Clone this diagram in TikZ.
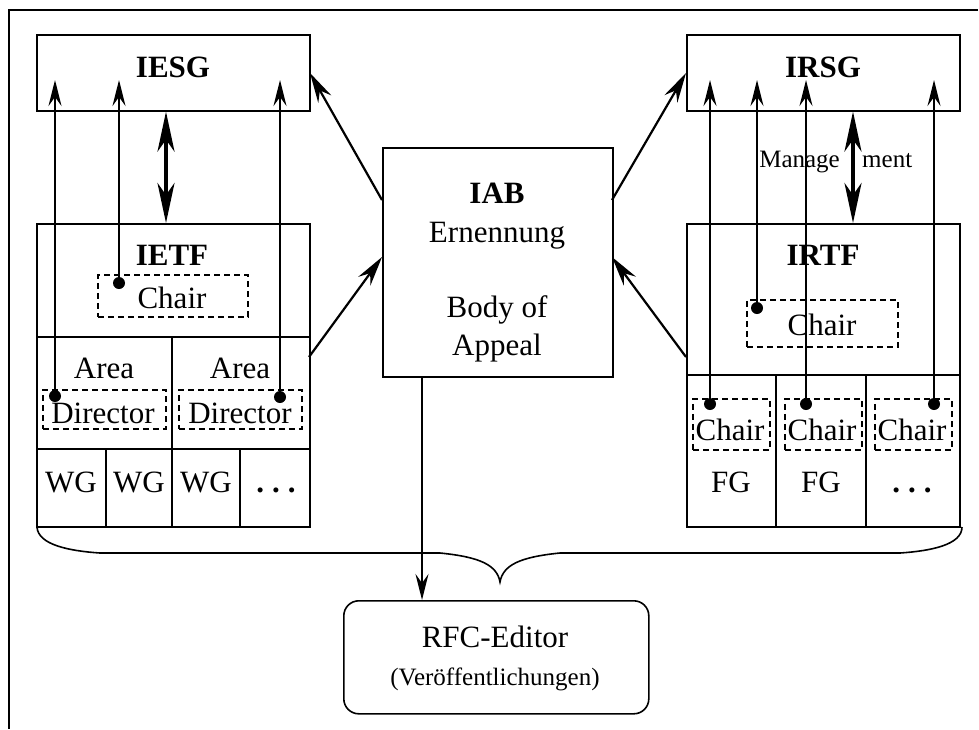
\documentclass[tikz,border=0pt]{standalone}
\usepackage{fontspec}
\setmainfont{Liberation Serif}
\usetikzlibrary{arrows.meta}
\newcommand{\spaceddots}{\textbf{.\kern8pt.\kern8pt.}}
\begin{document}
\begin{tikzpicture}[x=1pt,y=-1pt,
  box/.style={draw,line width=1.6pt,inner sep=0,anchor=north west},
  dbox/.style={draw,line width=1.6pt,dash pattern=on 6pt off 4pt,inner sep=0,anchor=north west},
  txt/.style={inner sep=0,anchor=base,font=\fontsize{31}{36}\selectfont},
  btxt/.style={inner sep=0,anchor=base,font=\fontsize{31}{36}\selectfont\bfseries},
  stxt/.style={inner sep=0,anchor=base,font=\fontsize{25}{30}\selectfont},
  dot/.style={circle,fill,inner sep=0,minimum size=12pt},
  arr/.style={line width=1.6pt,-{Stealth[length=26pt,width=13pt,inset=9pt]}},
  iarr/.style={line width=2.2pt,-{Stealth[length=30pt,width=15pt,inset=10pt]}},
  darr/.style={line width=4pt,{Stealth[length=40pt,width=17pt,inset=12pt]}-{Stealth[length=40pt,width=17pt,inset=12pt]}},
  grid/.style={line width=1.6pt}
]
\useasboundingbox (0,0) rectangle (979,729);
% frame
\draw[line width=2.5pt] (978,10) -- (9,10) -- (9,729);

% main boxes
\node[box,minimum width=273pt,minimum height=76pt] (iesg) at (36,34) {};
\node[box,minimum width=273pt,minimum height=303pt] (ietf) at (36,223) {};
\node[box,minimum width=273pt,minimum height=76pt] (irsg) at (686,34) {};
\node[box,minimum width=273pt,minimum height=303pt] (irtf) at (686,223) {};
\node[box,minimum width=230pt,minimum height=229pt] (iab) at (382,147) {};
\node[box,rounded corners=15pt,minimum width=305pt,minimum height=113pt] (rfc) at (343,600) {};

% IETF grid
\draw[grid] (36,337) -- (309,337);
\draw[grid] (36,449) -- (309,449);
\draw[grid] (172,337) -- (172,526);
\draw[grid] (106,449) -- (106,526);
\draw[grid] (240,449) -- (240,526);
% IRTF grid
\draw[grid] (686,375) -- (959,375);
\draw[grid] (776,375) -- (776,526);
\draw[grid] (866,375) -- (866,526);

% dashed boxes
\node[dbox,minimum width=150pt,minimum height=42pt] (ietfchairbox) at (97,274) {};
\node[dbox,minimum width=123pt,minimum height=39pt] (dirLbox) at (42,389) {};
\node[dbox,minimum width=123pt,minimum height=39pt] (dirRbox) at (178,389) {};
\node[dbox,minimum width=151pt,minimum height=47pt] (irtfchairbox) at (746,299) {};
\node[dbox,minimum width=77pt,minimum height=51pt] (fg1box) at (692,398) {};
\node[dbox,minimum width=77pt,minimum height=51pt] (fg2box) at (784,398) {};
\node[dbox,minimum width=77pt,minimum height=51pt] (fg3box) at (874,398) {};

% texts
\node[btxt] (tiesg) at (173,77) {IESG};
\node[btxt] (tirsg) at (823,77) {IRSG};
\node[btxt] (tietf) at (172,265) {IETF};
\node[txt] (tietfchair) at (172,308) {Chair};
\node[txt] (tareaL) at (104,378) {Area};
\node[txt] (tareaR) at (240,378) {Area};
\node[txt] (tdirL) at (103,423) {Director};
\node[txt] (tdirR) at (240,423) {Director};
\node[txt] (twg1) at (71,492) {WG};
\node[txt] (twg2) at (139,492) {WG};
\node[txt] (twg3) at (206,492) {WG};
\node[txt] (twg4) at (276,492) {\spaceddots};
\node[btxt] (tiab) at (497,203) {IAB};
\node[txt] (tern) at (497,242) {Ernennung};
\node[txt] (tbody) at (497,317) {Body of};
\node[txt] (tappeal) at (497,355) {Appeal};
\node[btxt] (tirtf) at (823,265) {IRTF};
\node[txt] (tirtfchair) at (822,335) {Chair};
\node[txt] (tfgc1) at (730,440) {Chair};
\node[txt] (tfgc2) at (822,440) {Chair};
\node[txt] (tfgc3) at (912,440) {Chair};
\node[txt] (tfg1) at (731,492) {FG};
\node[txt] (tfg2) at (821,492) {FG};
\node[txt] (tfg3) at (912,492) {\spaceddots};
\node[stxt,anchor=base east] (tmanage) at (840,167) {Manage};
\node[stxt,anchor=base west] (tment) at (862,167) {ment};
\node[txt] (trfc) at (495,647) {RFC-Editor};
\node[stxt] (tveroeff) at (495,685) {(Veröffentlichungen)};

% dots
\node[dot] (dchair) at (119,283) {};
\node[dot] (ddirL) at (55,396) {};
\node[dot] (ddirR) at (280,397) {};
\node[dot] (dirtf) at (757,308) {};
\node[dot] (dfg1) at (710,404) {};
\node[dot] (dfg2) at (806,404) {};
\node[dot] (dfg3) at (934,404) {};

% arrow tip coordinates inside IESG / IRSG
\coordinate (e1) at (55,80);
\coordinate (e2) at (119,80);
\coordinate (e3) at (280,80);
\coordinate (r1) at (710,80);
\coordinate (r2) at (757,80);
\coordinate (r3) at (806,80);
\coordinate (r4) at (934,80);

\draw[arr] (ddirL.center) -- (e1);
\draw[arr] (dchair.center) -- (e2);
\draw[arr] (ddirR.center) -- (e3);
\draw[arr] (dfg1.center) -- (r1);
\draw[arr] (dirtf.center) -- (r2);
\draw[arr] (dfg2.center) -- (r3);
\draw[arr] (dfg3.center) -- (r4);

% double arrows
\coordinate (cx1) at (166,0);
\coordinate (cx2) at (853,0);
\draw[darr] (iesg.south -| cx1) -- (ietf.north -| cx1);
\draw[darr] (irsg.south -| cx2) -- (irtf.north -| cx2);

% IAB arrows
\coordinate (iabL1) at (382,200);
\coordinate (iabR1) at (612,200);
\coordinate (iabL2) at (382,257);
\coordinate (iabR2) at (612,257);
\coordinate (ietfR) at (309,357);
\coordinate (irtfL) at (686,357);
\coordinate (iesgR) at (310,73);
\coordinate (irsgL) at (686,73);
\draw[iarr] (iabL1) -- (iesgR);
\draw[iarr] (iabR1) -- (irsgL);
\draw[iarr] (ietfR) -- (iabL2);
\draw[iarr] (irtfL) -- (iabR2);

% IAB to RFC
\coordinate (cx3) at (422,0);
\draw[arr] (iab.south -| cx3) -- (rfc.north -| cx3);

% brace
\draw[line width=1.6pt] (37,527) .. controls (38,545) and (70,551) .. (100,553) -- (440,553)
  .. controls (480,557) and (497,565) .. (500,582)
  .. controls (503,565) and (520,557) .. (560,553) -- (900,553)
  .. controls (930,551) and (962,545) .. (962,527);
\end{tikzpicture}
\end{document}
